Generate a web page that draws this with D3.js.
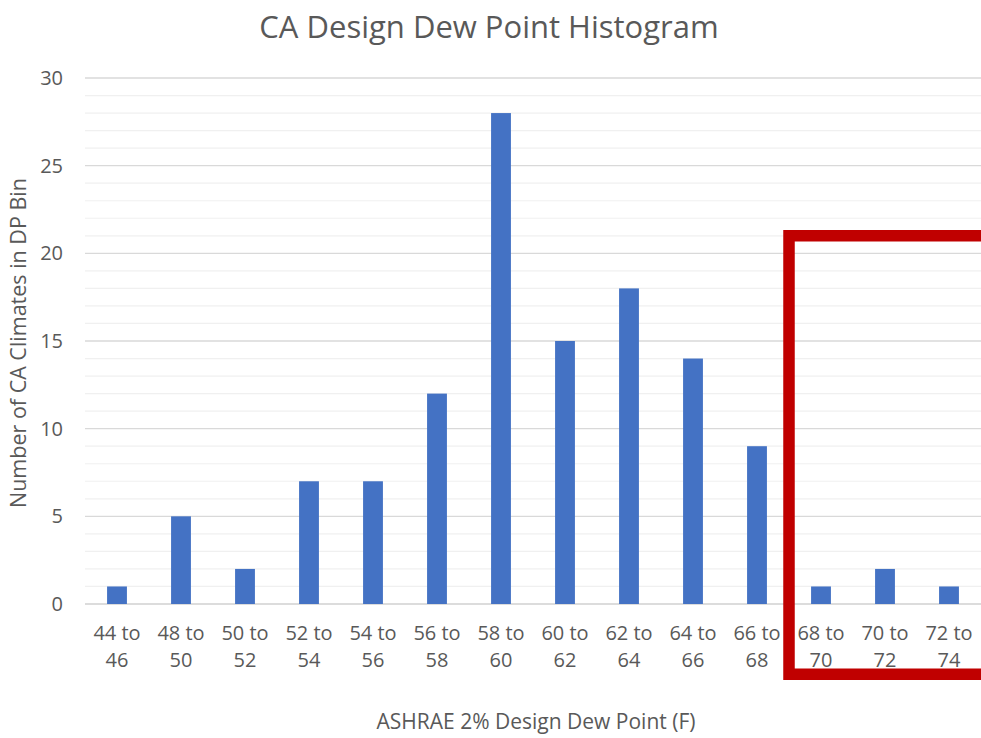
<!DOCTYPE html>
<html><head><meta charset="utf-8">
<script src="https://cdn.jsdelivr.net/npm/d3@7"></script>
<style>body{margin:0;background:#fff;}svg{display:block;font-family:"Open Sans",sans-serif;}</style>
</head><body>
<svg id="c" width="981" height="738"></svg>
<script>
const categories = ["44 to 46","48 to 50","50 to 52","52 to 54","54 to 56","56 to 58","58 to 60","60 to 62","62 to 64","64 to 66","66 to 68","68 to 70","70 to 72","72 to 74"];
const counts = [1,5,2,7,7,12,28,15,18,14,9,1,2,1];
const yTicks = [0,5,10,15,20,25,30];
const minorTicks = d3.range(0,31,1);
const titleText = "CA Design Dew Point Histogram";
const xTitle = "ASHRAE 2% Design Dew Point (F)";
const yTitle = "Number of CA Climates in DP Bin";
const highlight = {from:"68 to 70", top:21, bottom:-4};

const svg = d3.select("#c");
const L=85, R=981, T=78, B=604;
const x = d3.scaleBand().domain(categories).range([L,R]).paddingInner(0.69).paddingOuter(0.345);
const y = d3.scaleLinear().domain([0,30]).range([B,T]);
const step = x.step();

// minor grid
svg.append("g").selectAll("line").data(minorTicks.filter(v=>v%5!==0)).join("line")
  .attr("x1",L).attr("x2",R).attr("y1",d=>y(d)).attr("y2",d=>y(d))
  .attr("stroke","#f0f0f0").attr("stroke-width",1.2);
// major grid
svg.append("g").selectAll("line").data(yTicks).join("line")
  .attr("x1",L).attr("x2",R).attr("y1",d=>y(d)).attr("y2",d=>y(d))
  .attr("stroke",d=>d===0?"#d0d0d0":"#d9d9d9").attr("stroke-width",1.3);

// y tick labels
svg.append("g").selectAll("text").data(yTicks).join("text")
  .attr("x",63).attr("y",d=>y(d)).attr("dy","0.35em").attr("text-anchor","end")
  .attr("fill","#595959").attr("font-size",20).text(d=>d);

// bars
svg.append("g").selectAll("rect").data(counts).join("rect")
  .attr("x",(d,i)=>x(categories[i])).attr("width",x.bandwidth())
  .attr("y",d=>y(d)).attr("height",d=>y(0)-y(d)).attr("fill","#4472C4");

// x labels
const xl = svg.append("g").selectAll("text").data(categories).join("text")
  .attr("text-anchor","middle").attr("fill","#595959").attr("font-size",20);
xl.each(function(d){
  const parts = d.split(" ");
  const t = d3.select(this);
  const cx = x(d)+x.bandwidth()/2;
  t.append("tspan").attr("x",cx).attr("y",640).text(parts[0]+" "+parts[1]);
  t.append("tspan").attr("x",cx).attr("y",667).text(parts[2]);
});

// titles
svg.append("text").attr("x",489).attr("y",27).attr("dy","0.35em").attr("text-anchor","middle")
  .attr("fill","#595959").attr("font-size",31).text(titleText);
svg.append("text").attr("x",536).attr("y",722).attr("dy","0.35em").attr("text-anchor","middle")
  .attr("fill","#595959").attr("font-size",21).text(xTitle);
svg.append("text").attr("transform","translate(18,343) rotate(-90)").attr("dy","0.35em").attr("text-anchor","middle")
  .attr("fill","#595959").attr("font-size",21.5).text(yTitle);

// red highlight box
const bx = x(highlight.from) - (step - x.bandwidth())/2;
svg.append("path")
  .attr("d",`M${R+20},${y(highlight.top)} H${bx} V${y(highlight.bottom)} H${R+20}`)
  .attr("fill","none").attr("stroke","#C00000").attr("stroke-width",11.5);
</script>
</body></html>
